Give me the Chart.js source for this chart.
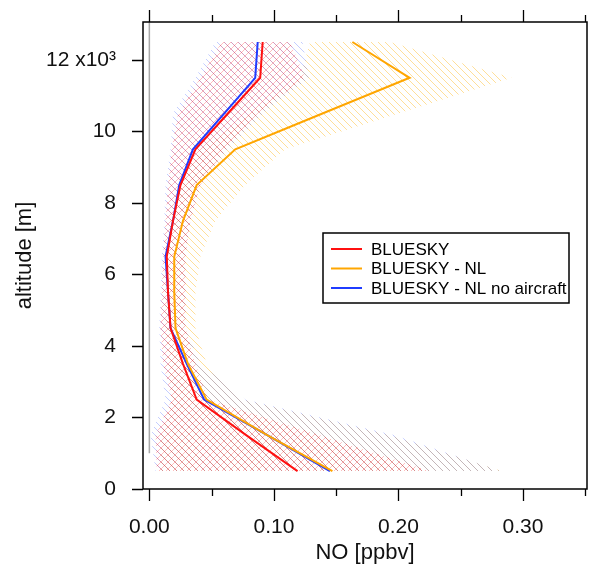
<!DOCTYPE html>
<html>
<head>
<meta charset="utf-8">
<script src="https://cdn.jsdelivr.net/npm/chart.js@4"></script>
<style>
  html, body { margin: 0; padding: 0; background: #fff; }
</style>
</head>
<body>
<canvas id="myChart" width="592" height="566"></canvas>
<script>
// altitude levels [m]
const altitude = [500, 1500, 2500, 3500, 4500, 5500, 6500, 7500, 8500, 9500, 10500, 11500, 12500];

// NO [ppbv] profiles
const noBluesky     = [0.119, 0.078, 0.038, 0.027, 0.017, 0.015, 0.014, 0.019, 0.025, 0.037, 0.063, 0.089, 0.091];
const noBlueskyNL   = [0.147, 0.095, 0.046, 0.031, 0.021, 0.020, 0.020, 0.027, 0.038, 0.069, 0.139, 0.209, 0.163];
const noBlueskyNoAc = [0.145, 0.095, 0.044, 0.030, 0.017, 0.015, 0.013, 0.019, 0.024, 0.035, 0.060, 0.085, 0.087];

// ranges (shaded)
const blueskyMin = [0.006, 0.005, 0.018, 0.011, 0.009, 0.010, 0.011, 0.013, 0.015, 0.018, 0.023, 0.041, 0.058];
const blueskyMax = [0.225, 0.137, 0.047, 0.037, 0.029, 0.029, 0.029, 0.033, 0.041, 0.061, 0.087, 0.125, 0.113];
const nlMin      = [0.009, 0.009, 0.018, 0.015, 0.013, 0.013, 0.014, 0.017, 0.023, 0.041, 0.081, 0.121, 0.129];
const nlMax      = [0.283, 0.193, 0.075, 0.046, 0.037, 0.037, 0.041, 0.053, 0.077, 0.109, 0.200, 0.291, 0.193];
const noAcMin    = [0.005, 0.001, 0.013, 0.009, 0.008, 0.009, 0.010, 0.012, 0.013, 0.017, 0.019, 0.037, 0.053];
const noAcMax    = [0.282, 0.197, 0.077, 0.041, 0.029, 0.029, 0.029, 0.033, 0.041, 0.063, 0.091, 0.128, 0.123];

// grey reference line at zero
const zeroLineX = [0, 0];
const zeroLineY = [1000, 13500];

// ticks
const xTicks = [0, 0.05, 0.10, 0.15, 0.20, 0.25, 0.30, 0.35];
const xTickLabels = ['0.00', '', '0.10', '', '0.20', '', '0.30', ''];
const yTicks = [0, 2000, 4000, 6000, 8000, 10000, 12000];
const yTickLabels = ['0', '2', '4', '6', '8', '10', '12 x10\u00B3'];
const legendLabels = ['BLUESKY', 'BLUESKY - NL', 'BLUESKY - NL no aircraft'];

const RED = '#ff1010';
const ORANGE = '#ffa600';
const BLUE = '#1f3cff';
const FONT = "'Liberation Sans', Arial, sans-serif";

const canvas = document.getElementById('myChart');
const ctx = canvas.getContext('2d');

function hatch(color, cross) {
	const s = 7;
	const tile = document.createElement('canvas');
	tile.width = s; tile.height = s;
	const g = tile.getContext('2d');
	g.strokeStyle = color;
	g.lineWidth = 1;
	g.beginPath();
	g.moveTo(-1, -1); g.lineTo(s + 1, s + 1);
	if (cross) { g.moveTo(-1, s + 1); g.lineTo(s + 1, -1); }
	g.stroke();
	return ctx.createPattern(tile, 'repeat');
}

const profile = (vals) => altitude.map((a, i) => ({x: vals[i], y: a}));
const envelope = (lo, hi) => profile(lo).concat(profile(hi).reverse());

const lineDs = (label, vals, color) => ({
	label: label,
	data: profile(vals),
	borderColor: color,
	borderWidth: 2,
	pointRadius: 0,
	fill: false,
});

const envDs = (lo, hi, pattern) => ({
	label: '',
	data: envelope(lo, hi),
	borderWidth: 0,
	borderColor: 'rgba(0,0,0,0)',
	backgroundColor: pattern,
	pointRadius: 0,
	fill: 'shape',
});

// keep the plot frame where the reference has it
const noLabelPadding = (s) => {
	s.paddingTop = 0; s.paddingBottom = 0;
	s.paddingLeft = 0; s.paddingRight = 0;
};

const framePlugin = {
	id: 'frameTicks',
	afterDraw(chart) {
		const {ctx, chartArea: a, scales: {x, y}} = chart;
		ctx.save();
		ctx.strokeStyle = '#000';
		ctx.lineWidth = 1.5;
		ctx.strokeRect(a.left, a.top, a.right - a.left, a.bottom - a.top);
		ctx.lineWidth = 1.3;
		ctx.beginPath();
		x.ticks.forEach((t, i) => {
			const px = Math.round(x.getPixelForValue(t.value)) + 0.5;
			const len = xTickLabels[i] ? 12 : 7;
			ctx.moveTo(px, a.bottom); ctx.lineTo(px, a.bottom + len);
			ctx.moveTo(px, a.top); ctx.lineTo(px, a.top - len);
		});
		y.ticks.forEach(t => {
			const py = Math.round(y.getPixelForValue(t.value)) + 0.5;
			ctx.moveTo(a.left - 11, py); ctx.lineTo(a.left, py);
		});
		ctx.stroke();

		// legend box
		const lx = 323, ly = 233, lw = 246, lh = 70;
		ctx.fillStyle = '#fff';
		ctx.fillRect(lx, ly, lw, lh);
		ctx.lineWidth = 1.5;
		ctx.strokeRect(lx, ly, lw, lh);
		const colors = [RED, ORANGE, BLUE];
		ctx.font = '17px ' + FONT;
		ctx.textBaseline = 'middle';
		ctx.textAlign = 'left';
		legendLabels.forEach((lab, i) => {
			const ry = ly + 16 + i * 19.5;
			ctx.strokeStyle = colors[i];
			ctx.lineWidth = 2;
			ctx.beginPath();
			ctx.moveTo(331, ry); ctx.lineTo(362, ry);
			ctx.stroke();
			ctx.fillStyle = '#000';
			ctx.fillText(lab, 371, ry + 1);
		});
		ctx.restore();
	}
};

new Chart(ctx, {
	type: 'line',
	data: {
		datasets: [
			lineDs('BLUESKY - NL', noBlueskyNL, ORANGE),
			lineDs('BLUESKY', noBluesky, RED),
			lineDs('BLUESKY - NL no aircraft', noBlueskyNoAc, BLUE),
			{
				label: '',
				data: zeroLineX.map((v, i) => ({x: v, y: zeroLineY[i]})),
				borderColor: '#a8a8a8',
				borderWidth: 1.5,
				pointRadius: 0,
				fill: false,
			},
			envDs(blueskyMin, blueskyMax, hatch('rgba(255,40,40,0.3)', true)),
			envDs(noAcMin, noAcMax, hatch('rgba(60,90,255,0.3)', false)),
			envDs(nlMin, nlMax, hatch('rgba(255,175,0,0.4)', false)),
		]
	},
	options: {
		responsive: false,
		animation: false,
		layout: { autoPadding: false, padding: { top: 22, right: 5, left: 0, bottom: 0 } },
		plugins: {
			legend: { display: false },
			tooltip: { enabled: false },
		},
		elements: { line: { tension: 0 } },
		scales: {
			x: {
				type: 'linear',
				min: -0.0051,
				max: 0.3514,
				afterFit: (s) => { s.height = 77; noLabelPadding(s); },
				afterBuildTicks: (s) => { s.ticks = xTicks.map(v => ({value: v})); },
				grid: { display: false },
				border: { display: false },
				ticks: {
					autoSkip: false,
					maxRotation: 0,
					padding: 18,
					color: '#111',
					font: { family: FONT, size: 21 },
					callback: (v, i) => xTickLabels[i],
				},
				title: {
					display: true,
					text: 'NO [ppbv]',
					color: '#111',
					font: { family: FONT, size: 22 },
					padding: { top: 0, bottom: 0 },
				},
			},
			y: {
				type: 'linear',
				min: 0,
				max: 13060,
				afterFit: (s) => { s.width = 143; noLabelPadding(s); },
				afterBuildTicks: (s) => { s.ticks = yTicks.map(v => ({value: v})); },
				grid: { display: false },
				border: { display: false },
				ticks: {
					autoSkip: false,
					padding: 19,
					color: '#111',
					font: { family: FONT, size: 21 },
					callback: (v, i) => yTickLabels[i],
				},
				title: {
					display: true,
					text: 'altitude [m]',
					color: '#111',
					font: { family: FONT, size: 22 },
					padding: { top: 12, bottom: 0 },
				},
			},
		},
	},
	plugins: [framePlugin],
});
</script>
</body>
</html>
